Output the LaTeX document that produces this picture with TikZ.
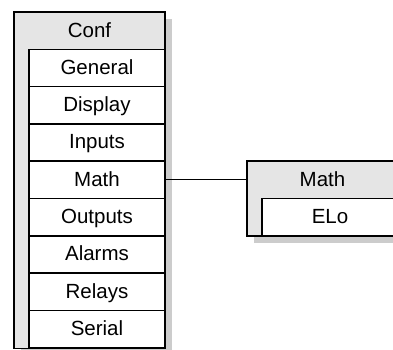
\documentclass[tikz,border=0pt]{standalone}
\usepackage{fontspec}
\setmainfont{Liberation Sans}
\usetikzlibrary{positioning,shadows}
\definecolor{panelgray}{gray}{0.9}
\definecolor{shadegray}{gray}{0.8}
\begin{document}
\begin{tikzpicture}[x=1pt, y=-1pt, node distance=37.3pt]

        \tikzstyle{panel} = [rectangle, draw=black, line width=1.5pt, fill=panelgray, inner sep=0pt, outer sep=0pt, drop shadow={shadow xshift=7pt, shadow yshift=-7pt, fill=shadegray, opacity=1}]
        \tikzstyle{item} = [rectangle, minimum width=136pt, minimum height=37.3pt, text centered, draw=black, line width=1.5pt, fill=white, inner sep=0pt, outer sep=0pt, text height=14.7pt, text depth=1.9pt, font=\fontsize{20.5}{24}\selectfont]
        \tikzstyle{title} = [rectangle, minimum height=37.3pt, text centered, draw=none, inner sep=0pt, outer sep=0pt, text height=14.7pt, text depth=1.9pt, font=\fontsize{20.5}{24}\selectfont]
        \tikzstyle{link} = [line width=1.2pt]

        \path [use as bounding box, clip] (0,0) rectangle (393,349);

        % Conf menu
        \node (conf) [panel, anchor=north west, minimum width=151pt, minimum height=336.5pt] at (14,12) {};
        \node (conftitle) [title, minimum width=151pt, below=0pt of conf.north] {Conf};
        \node (general) [item, anchor=north east] at (conf.east |- conftitle.south) {General};
        \node (display) [item, below of = general] {Display};
        \node (inputs) [item, below of = display] {Inputs};
        \node (math) [item, below of = inputs] {Math};
        \node (outputs) [item, below of = math] {Outputs};
        \node (alarms) [item, below of = outputs] {Alarms};
        \node (relays) [item, below of = alarms] {Relays};
        \node (serial) [item, below of = relays] {Serial};

        % Math submenu
        \node (mathbox) [panel, anchor=north west, minimum width=151pt, minimum height=74.6pt] at ([xshift=82pt]math.north east) {};
        \node (mathtitle) [title, minimum width=151pt, below=0pt of mathbox.north] {Math};
        \node (elo) [item, anchor=north west] at ([xshift=15pt]mathtitle.south west) {ELo};

        % Link
        \draw [link] (math.east) -- (mathtitle.west);

\end{tikzpicture}
\end{document}
